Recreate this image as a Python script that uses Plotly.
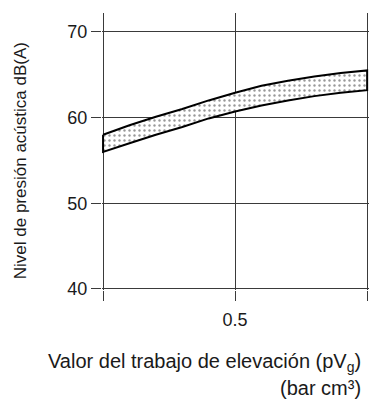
import plotly.graph_objects as go

# Lifting work (bar cm3) and the band of sound pressure levels dB(A)
work = [0.0, 0.1, 0.2, 0.3, 0.4, 0.5, 0.6, 0.7, 0.8, 0.9, 1.0]
level_upper = [58.0, 59.1, 60.1, 61.0, 62.0, 62.9, 63.7, 64.3, 64.8, 65.2, 65.5]
level_lower = [56.0, 57.0, 58.0, 58.9, 59.9, 60.7, 61.4, 62.0, 62.5, 62.9, 63.2]

y_ticks = [40, 50, 60, 70]
x_ticks = [0.0, 0.5, 1.0]
x_ticktext = ["", "0.5", ""]

FONT = "Liberation Sans"
INK = "#1a1a1a"
GRID = "#3a3a3a"

# closed outline of the band: upper edge forward, lower edge back
band_x = work + work[::-1] + [work[0]]
band_y = level_upper + level_lower[::-1] + [level_upper[0]]

fig = go.Figure()
fig.add_trace(go.Scatter(
    x=band_x, y=band_y, mode="lines", fill="toself",
    line=dict(color="black", width=2),
    fillcolor="white",
    fillpattern=dict(shape=".", size=5, solidity=0.18,
                     fgcolor="#333333", bgcolor="white"),
    hoverinfo="skip", showlegend=False,
))

fig.update_layout(
    width=370, height=400,
    margin=dict(l=102, r=1, t=13, b=110),
    paper_bgcolor="white", plot_bgcolor="white",
    font=dict(family=FONT, size=16, color=INK),
    xaxis=dict(
        range=[-0.004, 1.007], tickvals=x_ticks, ticktext=x_ticktext,
        showgrid=True, gridcolor=GRID, gridwidth=1,
        ticks="outside", ticklen=10, tickcolor=GRID, tickwidth=1,
        ticklabelstandoff=3,
        showline=False, zeroline=False,
        tickfont=dict(family=FONT, size=18, color=INK),
    ),
    yaxis=dict(
        range=[39.88, 72.2], tickvals=y_ticks,
        showgrid=True, gridcolor=GRID, gridwidth=1,
        ticks="outside", ticklen=10, tickcolor=GRID, tickwidth=1,
        showline=False, zeroline=False,
        tickfont=dict(family=FONT, size=18, color=INK),
    ),
    annotations=[
        dict(text="Nivel de presión acústica dB(A)", xref="paper", yref="paper",
             x=-0.307, y=0.465, xanchor="center", yanchor="middle",
             textangle=-90, showarrow=False,
             font=dict(family=FONT, size=17, color=INK)),
        dict(text="Valor del trabajo de elevación (pV<sub>g</sub>)",
             xref="paper", yref="paper", x=0.9775, y=-0.26,
             xanchor="right", yanchor="middle", showarrow=False,
             font=dict(family=FONT, size=20, color=INK)),
        dict(text="(bar cm³)",
             xref="paper", yref="paper", x=0.9775, y=-0.354,
             xanchor="right", yanchor="middle", showarrow=False,
             font=dict(family=FONT, size=20, color=INK)),
    ],
)

fig.write_html("out.html")
